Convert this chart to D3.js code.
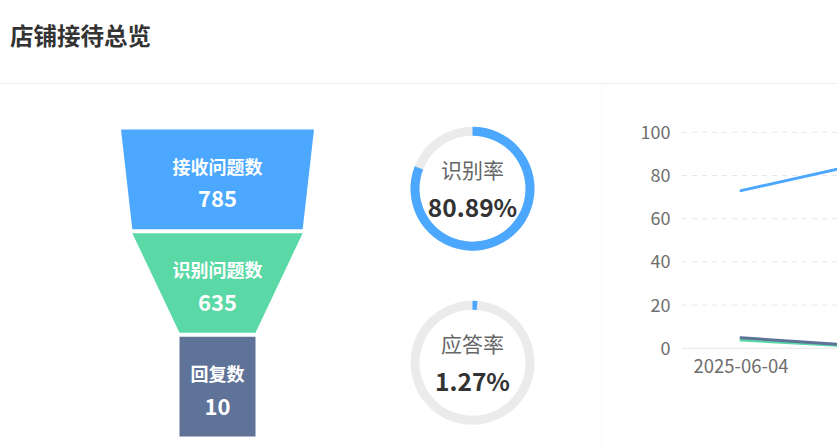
<!DOCTYPE html>
<html><head><meta charset="utf-8">
<script src="https://cdn.jsdelivr.net/npm/d3@7/dist/d3.min.js"></script>
<style>
html,body{margin:0;padding:0;background:#fff;overflow:hidden}
svg{display:block;font-family:"Noto Sans CJK SC","Noto Sans",sans-serif}
</style></head>
<body>
<svg id="c" width="837" height="448"></svg>
<script>
// ---- data ----
const title = "店铺接待总览";
const funnelNames = ["接收问题数", "识别问题数", "回复数"];
const funnelValues = [785, 635, 10];
const funnelColors = ["#4ca8ff", "#5ad8a6", "#5f7399"];
const ringNames = ["识别率", "应答率"];
const ringValues = [80.89, 1.27];
const dates = ["2025-06-04", "2025-06-05"];
const seriesBlue = [73, 85];
const seriesDark = [4.9, 1.25];
const seriesGreen = [3.8, 0.9];
const yTicks = [0, 20, 40, 60, 80, 100];

const svg = d3.select("#c");

// header
svg.append("text").attr("x", 10).attr("y", 44.5)
  .attr("font-size", 23.5).attr("font-weight", "bold").attr("fill", "#333")
  .text(title);
svg.append("line").attr("x1", 0).attr("x2", 837).attr("y1", 83.5).attr("y2", 83.5)
  .attr("stroke", "#ebebeb");
svg.append("line").attr("x1", 601.5).attr("x2", 601.5).attr("y1", 84).attr("y2", 448)
  .attr("stroke", "#f8f8f8");

// ---- funnel ----
const cx = 217.5;
const yb = d3.scaleBand().domain(funnelNames).range([129.5, 436.5]).paddingInner(0.0386);
const w = d3.scaleLinear().domain([d3.min(funnelValues), d3.max(funnelValues)]).range([76, 193]);
const fg = svg.append("g");
funnelNames.forEach((name, i) => {
  const y0 = yb(name), y1 = y0 + yb.bandwidth();
  const wt = w(funnelValues[i]);
  const wb = i < funnelValues.length - 1 ? w(funnelValues[i + 1]) : wt;
  fg.append("path")
    .attr("d", d3.line()([[cx - wt / 2, y0], [cx + wt / 2, y0], [cx + wb / 2, y1], [cx - wb / 2, y1]]) + "Z")
    .attr("fill", funnelColors[i]);
  const ym = (y0 + y1) / 2;
  fg.append("text").attr("x", cx).attr("y", ym - 12).attr("dy", "0.36em")
    .attr("text-anchor", "middle").attr("font-size", 18).attr("font-weight", "bold")
    .attr("fill", "#fff").text(name);
  fg.append("text").attr("x", cx).attr("y", ym + 20).attr("dy", "0.36em")
    .attr("text-anchor", "middle").attr("font-size", 22).attr("font-weight", "bold")
    .attr("fill", "#fff").text(funnelValues[i]);
});

// ---- rings ----
const ringCenters = [[472.5, 188.7], [472.5, 362.8]];
const pct = d3.scaleLinear().domain([0, 100]).range([0, 2 * Math.PI]);
const arc = d3.arc().innerRadius(53).outerRadius(62);
ringNames.forEach((name, i) => {
  const g = svg.append("g").attr("transform", `translate(${ringCenters[i][0]},${ringCenters[i][1]})`);
  g.append("path").attr("d", arc({ startAngle: 0, endAngle: 2 * Math.PI })).attr("fill", "#ebebeb");
  g.append("path").attr("d", arc({ startAngle: 0, endAngle: pct(ringValues[i]) })).attr("fill", "#4ca8ff");
  g.append("text").attr("y", -18.5).attr("dy", "0.36em").attr("text-anchor", "middle")
    .attr("font-size", 21).attr("fill", "#666").text(name);
  g.append("text").attr("y", 19.5).attr("dy", "0.36em").attr("text-anchor", "middle")
    .attr("font-size", 24.5).attr("font-weight", "bold").attr("fill", "#333")
    .text(ringValues[i].toFixed(2) + "%");
});

// ---- line chart ----
const x = d3.scalePoint().domain(dates).range([741, 857]).padding(0);
const y = d3.scaleLinear().domain([0, 100]).range([348.3, 132.3]);
const lg = svg.append("g");
yTicks.forEach(t => {
  if (t === 0) {
    lg.append("line").attr("x1", 682).attr("x2", 837).attr("y1", y(t)).attr("y2", y(t))
      .attr("stroke", "#e6e6e6");
  } else {
    lg.append("line").attr("x1", 682).attr("x2", 837).attr("y1", y(t)).attr("y2", y(t))
      .attr("stroke", "#e6e6e6").attr("stroke-dasharray", "5,5");
  }
  lg.append("text").attr("x", 670.5).attr("y", y(t)).attr("dy", "0.36em")
    .attr("text-anchor", "end").attr("font-size", 18).attr("fill", "#6e6e6e").text(t);
});
dates.forEach((d, i) => {
  if (i % 2 === 0) {
    lg.append("text").attr("x", x(d)).attr("y", 366.7).attr("dy", "0.36em")
      .attr("text-anchor", "middle").attr("font-size", 18.5).attr("fill", "#6e6e6e").text(d);
  }
});
const line = d3.line().x((v, i) => x(dates[i])).y(v => y(v));
[[seriesBlue, "#4ca8ff"], [seriesGreen, "#5ad8a6"], [seriesDark, "#5f7399"]].forEach(([s, c]) => {
  lg.append("path").attr("d", line(s)).attr("fill", "none").attr("stroke", c)
    .attr("stroke-width", 3).attr("stroke-linecap", "round");
});
</script>
</body></html>
